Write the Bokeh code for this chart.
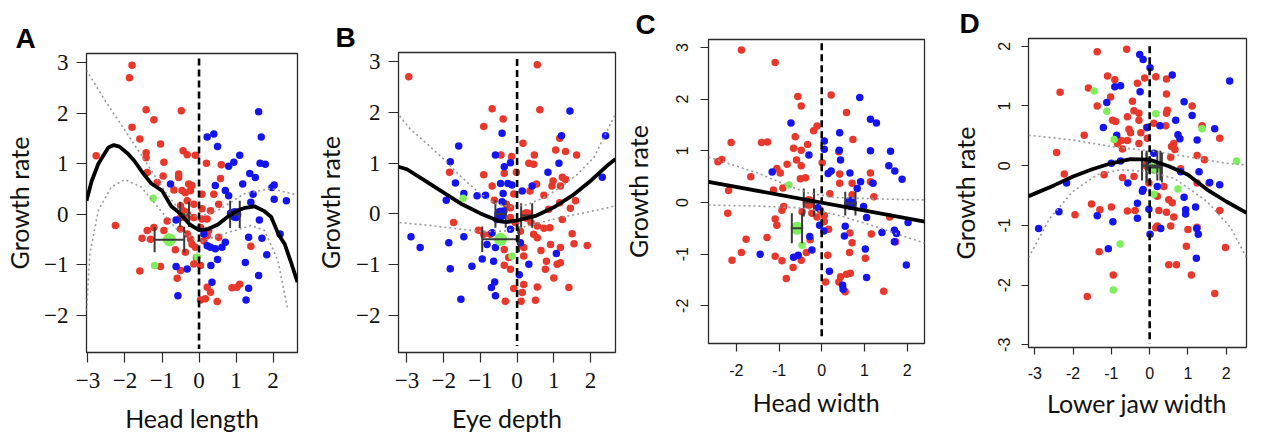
from bokeh.plotting import figure
from bokeh.layouts import row
from bokeh.models import FixedTicker
from bokeh.embed import file_html
from bokeh.resources import INLINE

RED = "#E8372B"
BLUE = "#1414EE"
GREEN = "#7CEF5A"

# ---------------- Panel A : Head length ----------------
A_RED_X = [-1.81,-1.88,-1.43,-0.48,-1.22,-1.81,-1.60,-1.04,-0.43,-0.32,-0.10,-1.43,-1.43,-2.78,-0.95,0.20,0.60,-1.40,-0.97,-0.55,-0.55,0.58,-1.13,-0.28,-0.19,-0.46,-0.37,-0.23,-0.68,0.08,0.40,-0.32,-0.50,-0.14,0.53,0.08,0.31,-0.14,0.22,-0.50,-0.86,-2.26,-1.22,-1.40,-0.95,-0.50,-0.32,-1.54,-1.31,-0.19,-0.10,0.13,0.22,0.53,-0.64,-0.37,1.40,-1.04,-1.60,-0.50,-0.59,-0.14,0.04,-0.07,0.22,0.31,0.04,0.49,0.17,0.89,1.10,1.02,-0.43,-0.37,-0.28,0.08,0.04,0.26,-0.23]
A_RED_Y = [2.95,2.70,2.07,2.05,1.87,1.72,1.49,1.39,1.26,1.18,1.17,1.22,1.12,1.16,1.03,1.01,0.98,0.83,0.76,0.80,0.73,0.71,0.63,0.60,0.57,0.47,0.43,0.47,0.48,0.40,0.40,0.27,0.17,0.20,0.20,0.11,0.07,-0.06,-0.09,-0.06,-0.13,-0.22,-0.26,-0.32,-0.32,-0.29,-0.39,-0.47,-0.49,-0.59,-0.65,-0.52,-0.42,-0.45,-0.70,-0.75,-0.63,-1.03,-1.12,-1.11,-1.26,-0.98,-1.01,-0.85,-1.44,-1.54,-1.69,-1.72,-1.67,-1.45,-1.38,-1.44,0.07,0.01,-0.05,-0.09,-0.26,-0.32,-0.49]
A_BLUE_X = [0.22,0.40,0.50,1.61,1.68,1.10,0.94,0.80,1.65,1.79,1.37,1.52,1.18,2.03,1.97,0.44,0.71,0.80,-0.77,1.46,1.40,2.03,2.36,-0.62,1.63,2.19,1.34,1.70,0.71,0.62,0.44,0.22,0.31,1.83,0.50,1.25,0.32,-0.62,-0.32,1.61,0.35,1.34,-0.57,1.27,0.13,0.85,1.00]
A_BLUE_Y = [1.53,1.59,1.34,2.03,1.53,1.17,1.03,0.95,1.01,0.99,0.81,0.73,0.60,0.58,0.53,0.57,0.47,0.37,0.60,0.40,0.24,0.30,0.27,-0.11,-0.11,-0.39,-0.45,-0.47,-0.55,-0.65,-0.68,-0.62,-0.65,-0.80,-0.89,-0.95,-1.01,-1.03,-1.08,-1.21,-1.34,-1.46,-1.61,-1.69,-0.39,0.02,-0.06]
A_GREEN_X = [-1.24,-1.20,-0.05]
A_GREEN_Y = [0.32,-1.01,-0.84]
A_MEAN_X = [-0.39, 0.97, -0.80]      # red, blue, green
A_MEAN_Y = [0.00, 0.00, -0.50]
A_SE_X = [0.12, 0.13, 0.40]
A_CAP = [0.25, 0.27, 0.25]
A_FIT_X = [-3.04,-2.90,-2.72,-2.45,-2.30,-2.15,-1.92,-1.75,-1.50,-1.29,-1.00,-0.75,-0.50,-0.25,0.00,0.25,0.51,0.75,1.05,1.25,1.50,1.75,1.95,2.15,2.31,2.50,2.66]
A_FIT_Y = [0.27,0.66,1.00,1.32,1.37,1.34,1.20,1.06,0.80,0.61,0.47,0.16,0.01,-0.20,-0.31,-0.29,-0.20,-0.06,0.08,0.13,0.16,0.07,-0.05,-0.40,-0.58,-0.98,-1.34]
A_UP_X = [-3.04,-2.54,-2.00,-1.47,-0.93,-0.48,0.00,0.51,1.23,1.95,2.66]
A_UP_Y = [2.85,2.25,1.66,1.07,0.47,0.03,-0.05,0.08,0.41,0.51,0.38]
A_LO_X = [-3.04,-2.95,-2.72,-2.37,-2.00,-1.56,-1.11,-0.57,0.02,0.69,1.41,1.77,2.13,2.40]
A_LO_Y = [-1.90,-0.78,0.08,0.54,0.69,0.54,0.14,-0.32,-0.55,-0.38,-0.22,-0.32,-0.91,-1.90]

# ---------------- Panel B : Eye depth ----------------
B_RED_X = [-2.95,0.55,-0.68,0.62,-0.38,-0.91,1.16,0.16,1.05,1.32,1.62,-0.44,-0.15,0.47,0.32,0.45,-1.84,-0.91,-0.35,-0.02,0.98,1.23,1.32,0.95,1.18,0.53,0.35,-0.68,-0.09,0.73,1.59,1.16,1.45,-0.62,-0.29,-0.18,0.86,-1.73,-1.05,-0.91,-0.73,-0.18,-0.05,0.27,0.38,0.55,0.73,0.89,1.23,1.50,1.55,1.91,1.18,0.91,0.65,0.45,0.55,0.18,0.18,-0.35,-0.23,0.80,1.09,1.18,0.77,1.00,-0.35,-0.18,0.18,-0.09,0.55,1.41,0.14,-0.32,0.11,0.50,0.09]
B_RED_Y = [2.70,2.94,2.07,2.05,1.87,1.72,1.49,1.39,1.26,1.23,1.16,1.16,1.13,1.16,1.00,0.98,0.82,0.77,0.80,0.82,0.65,0.72,0.68,0.55,0.55,0.59,0.45,0.55,0.39,0.37,0.26,0.22,0.11,0.27,0.19,0.12,0.09,-0.17,-0.32,-0.40,-0.40,-0.07,-0.17,-0.07,-0.17,-0.24,-0.28,-0.27,-0.11,-0.39,-0.59,-0.62,-0.66,-0.60,-0.72,-0.40,-0.47,-0.66,-0.83,-0.70,-0.86,-0.93,-0.99,-0.96,-1.09,-1.26,-1.01,-1.09,-1.39,-1.47,-1.44,-1.45,-1.55,-1.72,-1.72,-1.70,-0.34]
B_BLUE_X = [1.44,2.41,-0.41,1.21,-1.59,-1.82,-0.59,-0.35,-0.18,1.14,0.84,-1.68,-0.45,-0.25,-0.14,0.14,0.41,2.32,-1.45,-1.09,-0.86,-0.38,-1.93,-0.41,-0.18,-0.68,-2.89,-2.64,-1.86,-1.45,-0.82,-0.59,0.09,1.07,-0.95,-0.64,-1.23,-1.82,0.32,0.06,-0.61,-0.70,-0.59,-1.53,-0.36,-0.55]
B_BLUE_Y = [2.03,1.54,1.59,1.54,1.34,1.03,1.16,0.93,1.01,1.00,0.82,0.61,0.60,0.60,0.57,0.45,0.55,0.72,0.40,0.36,0.37,0.40,0.27,0.24,-0.30,-0.37,-0.45,-0.66,-0.57,-0.45,-0.60,-0.66,-0.57,-0.78,-0.89,-0.93,-1.03,-1.08,-0.99,-1.20,-1.34,-1.45,-1.61,-1.68,0.06,-0.11]
B_GREEN_X = [-1.47,-0.14]
B_GREEN_Y = [0.31,-0.83]
B_MEAN_X = [0.26, -0.45, -0.45]
B_MEAN_Y = [-0.03, 0.00, -0.50]
B_SE_X = [0.15, 0.14, 0.50]
B_CAP = [0.24, 0.27, 0.25]
B_FIT_X = [-3.23,-3.00,-2.50,-2.00,-1.50,-1.00,-0.50,-0.30,0.00,0.50,1.00,1.50,2.00,2.50,2.68]
B_FIT_Y = [0.93,0.88,0.65,0.42,0.19,0.01,-0.14,-0.16,-0.13,-0.04,0.13,0.36,0.65,0.98,1.08]
B_UP_X = [-3.20,-2.91,-2.45,-2.00,-1.55,-1.09,-0.64,-0.18,0.27,0.73,1.18,1.64,2.09,2.68]
B_UP_Y = [1.93,1.67,1.38,1.08,0.75,0.45,0.22,0.14,0.18,0.32,0.52,0.78,1.11,1.97]
B_LO_X = [-3.20,-2.45,-1.55,-0.91,-0.36,0.27,1.18,2.09,2.68]
B_LO_Y = [-0.17,-0.22,-0.30,-0.35,-0.34,-0.24,-0.07,0.06,0.16]

# ---------------- Panel C : Head width ----------------
C_RED_X = [-1.88,-1.09,-0.56,0.22,-0.48,0.58,-0.11,-0.19,-0.62,0.73,-2.12,-1.41,-1.27,-0.33,-0.66,-0.48,0.40,-2.34,-2.43,-0.81,-0.59,-0.48,0.01,-1.05,-0.97,1.14,0.42,-1.66,-0.50,-0.38,0.42,0.71,1.14,-2.18,-1.13,-0.91,0.19,1.22,0.71,-0.93,-0.89,-2.20,-0.46,-0.23,-0.11,0.06,-1.09,-1.05,0.16,0.66,1.16,1.59,-1.77,-1.28,-0.27,0.71,1.73,-1.88,-2.10,-1.09,-0.93,-0.36,0.14,0.65,1.02,-0.67,-0.48,-0.83,0.09,0.44,0.58,0.67,0.40,0.55,1.45,-0.03,0.06]
C_RED_Y = [2.95,2.71,2.05,2.08,1.87,1.74,1.48,1.39,1.27,1.22,1.16,1.16,1.17,1.12,1.05,1.01,0.98,0.83,0.79,0.74,0.82,0.71,0.77,0.66,0.57,0.57,0.55,0.50,0.46,0.48,0.37,0.37,0.40,0.23,0.24,0.28,0.17,0.11,0.15,-0.15,-0.08,-0.21,-0.18,-0.21,-0.28,-0.37,-0.32,-0.44,-0.52,-0.59,-0.61,-0.28,-0.71,-0.68,-0.72,-0.78,-0.76,-0.97,-1.12,-1.04,-1.13,-0.97,-1.02,-0.97,-1.08,-1.26,-1.12,-1.47,-1.54,-1.44,-1.39,-1.37,-1.54,-1.73,-1.72,-0.15,-0.25]
C_BLUE_X = [0.89,1.14,1.28,-0.72,0.42,0.06,0.06,0.41,1.14,1.61,-0.30,0.44,1.57,1.71,1.88,-1.16,0.15,0.22,0.66,0.91,0.83,1.20,-0.09,0.98,1.05,2.02,1.41,1.70,1.75,1.70,0.55,0.53,-0.28,-0.05,0.05,-0.23,1.02,-1.44,-0.66,-0.55,1.98,0.18,1.05,0.49,0.50]
C_BLUE_Y = [2.03,1.61,1.54,1.54,1.35,1.19,1.03,1.01,1.00,0.99,0.92,0.82,0.71,0.61,0.45,0.59,0.56,0.61,0.57,0.40,0.27,0.37,-0.10,-0.08,-0.29,-0.39,-0.58,-0.54,-0.60,-0.76,-0.46,-0.65,-0.66,-0.44,-0.55,-0.92,-0.90,-1.00,-1.06,-1.02,-1.21,-1.33,-1.45,-1.60,-1.68]
C_GREEN_X = [-0.77,-0.46]
C_GREEN_Y = [0.34,-0.83]
C_MEAN_X = [-0.30, 0.67, -0.58]
C_MEAN_Y = [0.00, -0.02, -0.50]
C_SE_X = [0.12, 0.12, 0.12]
C_CAP = [0.27, 0.23, 0.29]
C_FIT_X = [-2.65, 2.41]
C_FIT_Y = [0.40, -0.37]
C_UP_X = [-2.65,-1.50,-0.80,-0.30,0.30,1.20,2.41]
C_UP_Y = [0.88,0.57,0.33,0.18,0.10,0.07,0.05]
C_LO_X = [-2.65,-1.50,-0.60,-0.20,0.40,1.20,2.41]
C_LO_Y = [-0.05,-0.07,-0.10,-0.14,-0.25,-0.45,-0.79]

# ---------------- Panel D : Lower jaw width ----------------
D_RED_X = [-1.37,-0.60,-1.10,-0.91,-2.34,-1.60,0.16,0.44,-0.13,-0.32,-1.02,0.44,-0.45,-1.37,1.11,-0.41,-0.28,0.46,0.44,-0.58,-0.97,-0.89,-0.28,0.11,-0.08,0.42,-0.54,-0.50,-1.71,-0.23,1.37,-0.74,-0.84,-0.58,-0.06,1.83,-0.28,-0.71,0.63,0.57,0.66,-2.43,1.24,1.43,0.55,-0.13,-2.23,-1.19,-0.71,-0.41,0.81,1.24,1.55,0.37,-1.52,-1.30,-1.00,-0.58,-0.38,0.24,0.44,0.50,0.59,0.63,1.83,-1.95,0.20,0.55,0.16,1.00,1.24,0.96,1.98,-1.32,0.50,0.70,1.09,-0.95,-1.63,1.70,-0.02,0.20]
D_RED_Y = [1.91,1.95,1.50,1.44,1.23,1.30,1.49,1.45,1.47,1.38,1.15,1.20,1.08,1.00,1.00,0.92,0.88,0.93,0.88,0.82,0.76,0.74,0.76,0.71,0.64,0.67,0.61,0.55,0.51,0.55,0.67,0.42,0.37,0.42,0.46,0.46,0.37,0.28,0.37,0.32,0.27,0.22,0.17,0.10,0.14,0.01,-0.14,-0.15,-0.20,-0.18,-0.05,-0.29,-0.29,-0.35,-0.64,-0.74,-0.69,-0.76,-0.75,-0.75,-0.78,-0.57,-0.62,-0.86,-0.75,-0.82,-1.01,-1.01,-1.04,-1.07,-1.03,-1.35,-1.37,-1.44,-1.66,-1.66,-1.83,-1.83,-2.19,-2.14,-0.29,-0.51]
D_BLUE_X = [-0.26,-0.17,0.01,0.59,2.09,-0.91,-0.76,-0.25,-1.12,0.90,1.11,0.68,-1.21,-0.06,0.27,0.74,0.79,1.70,-0.86,1.24,-0.76,-1.00,0.11,1.29,0.81,-2.17,-0.57,-0.19,0.20,1.57,1.83,-2.37,-1.37,-0.96,-0.32,-0.32,-0.02,0.90,0.94,0.94,1.20,-2.90,0.29,1.23,1.27,0.01,-1.08,1.22,-0.17]
D_BLUE_Y = [1.86,1.78,1.64,1.52,1.42,1.32,1.34,1.24,1.06,1.07,0.84,0.76,0.64,0.64,0.67,0.52,0.45,0.62,0.51,0.43,0.08,0.04,0.21,-0.10,-0.10,-0.29,-0.29,-0.43,-0.35,-0.28,-0.32,-0.77,-0.84,-0.94,-0.63,-0.88,-0.73,-0.53,-0.74,-0.81,-0.69,-1.05,-1.05,-1.05,-1.15,-1.15,-1.39,-1.55,-0.40]
D_GREEN_X = [-1.45,-1.12,0.16,1.37,-0.93,2.27,0.74,0.11,-0.77,-0.95]
D_GREEN_Y = [1.25,0.91,0.87,0.62,0.44,0.08,-0.39,-0.48,-1.31,-2.08]
D_MEAN_X = [0.00, 0.10, 0.12]
D_MEAN_Y = [0.00, 0.00, -0.03]
D_SE_X = [0.20, 0.18, 0.20]
D_CAP = [0.25, 0.25, 0.25]
D_FIT_X = [-3.16,-2.50,-2.00,-1.50,-1.00,-0.50,0.00,0.50,1.00,1.50,2.00,2.53]
D_FIT_Y = [-0.51,-0.33,-0.18,-0.06,0.04,0.11,0.10,-0.01,-0.15,-0.40,-0.60,-0.79]
D_UP_X = [-3.16,-2.00,-1.00,0.00,1.00,2.00,2.53]
D_UP_Y = [0.51,0.43,0.32,0.25,0.15,0.04,0.01]
D_LO_X = [-3.16,-2.61,-2.00,-1.37,-0.76,0.00,0.64,1.50,2.12,2.53]
D_LO_Y = [-1.54,-0.88,-0.43,-0.15,-0.07,-0.10,-0.21,-0.60,-1.04,-1.54]

TICKS_AB_X = [-3, -2, -1, 0, 1, 2]
TICKS_AB_Y = [-2, -1, 0, 1, 2, 3]
TICKS_C_X = [-2, -1, 0, 1, 2]
TICKS_C_Y = [-2, -1, 0, 1, 2, 3]
TICKS_D_X = [-3, -2, -1, 0, 1, 2]
TICKS_D_Y = [-3, -2, -1, 0, 1, 2]

TOP = 38      # common top border (frames aligned inside a row)
BOTTOM = 93   # common bottom border


def lab(v, minus):
    return (minus + str(abs(v))) if v < 0 else str(v)


def panel(letter, xlabel, xr, yr, width, left, right, frame_top, frame_h, xt, yt, minus,
          tfont, tsize, rot, rx, ry, bx, by, gx, gy, mx, my, sex, cap, fx, fy, ux, uy, lx, ly,
          vline, title_off, title_lh, ylab_standoff, xlab_standoff, tick_out,
          tick_stand_x, tick_stand_y):
    p = figure(width=width, height=TOP + frame_h + BOTTOM, x_range=xr, y_range=yr,
               output_backend="svg", toolbar_location=None,
               min_border_left=left, min_border_right=right,
               min_border_top=TOP, min_border_bottom=BOTTOM,
               margin=(frame_top - TOP, 0, 0, 0),
               title=letter)
    p.title.text_font = "Liberation Sans"
    p.title.text_font_style = "bold"
    p.title.text_font_size = "28px"
    p.title.text_color = "black"
    p.title.align = "left"
    p.title.offset = title_off
    p.title.standoff = 0
    p.title.text_line_height = title_lh
    p.grid.visible = False
    p.background_fill_color = "white"
    p.border_fill_color = "white"
    p.outline_line_color = "#2a2a2a"
    p.outline_line_width = 1.3
    for ax in (p.xaxis, p.yaxis):
        ax.axis_line_color = None
        ax.major_tick_line_color = "#2a2a2a"
        ax.major_tick_line_width = 1.2
        ax.major_tick_out = tick_out
        ax.major_tick_in = 0
        ax.minor_tick_line_color = None
        ax.major_label_text_font = tfont
        ax.major_label_text_font_size = tsize
        ax.major_label_text_color = "#111111"
        ax.axis_label_text_font = "Lato"
        ax.axis_label_text_font_size = "25px"
        ax.axis_label_text_font_style = "normal"
        ax.axis_label_text_color = "#111111"
    p.xaxis.ticker = FixedTicker(ticks=xt)
    p.yaxis.ticker = FixedTicker(ticks=yt)
    p.xaxis.major_label_overrides = {v: lab(v, minus) for v in xt}
    p.yaxis.major_label_overrides = {v: lab(v, minus) for v in yt}
    p.xaxis.major_label_standoff = tick_stand_x
    p.yaxis.major_label_standoff = tick_stand_y
    if rot:
        p.yaxis.major_label_orientation = "vertical"
    p.xaxis.axis_label = xlabel
    p.yaxis.axis_label = "Growth rate"
    p.xaxis.axis_label_standoff = xlab_standoff
    p.yaxis.axis_label_standoff = ylab_standoff

    nr = min(len(rx), len(ry))
    nb = min(len(bx), len(by))
    p.scatter(rx[:nr], ry[:nr], size=7.5, color=RED, line_width=0)
    p.scatter(bx[:nb], by[:nb], size=7.5, color=BLUE, line_width=0)
    p.scatter(gx, gy, size=7.5, color=GREEN, line_width=0)
    cols = [RED, BLUE, GREEN]
    p.scatter(mx, my, size=13, color=cols, line_width=0)
    x0 = [m - s for m, s in zip(mx, sex)]
    x1 = [m + s for m, s in zip(mx, sex)]
    ylo = [m - c for m, c in zip(my, cap)]
    yhi = [m + c for m, c in zip(my, cap)]
    p.segment(x0, my, x1, my, line_color="#3a3a3a", line_width=2)
    p.segment(x0, ylo, x0, yhi, line_color="#3a3a3a", line_width=2)
    p.segment(x1, ylo, x1, yhi, line_color="#3a3a3a", line_width=2)
    p.line(ux, uy, line_color="#9a9a9a", line_width=1.6, line_dash="2 3")
    p.line(lx, ly, line_color="#9a9a9a", line_width=1.6, line_dash="2 3")
    p.line(fx, fy, line_color="black", line_width=3.8)
    p.line([0, 0], vline, line_color="black", line_width=2.6, line_dash="7 4")
    return p


# figure spans: A 0-300, B 300-618, C 618-927, D 927-1268
pa = panel("A", "Head length", (-3.04, 2.66), (-2.73, 3.18), 300, 86, 3, 53, 299,
           TICKS_AB_X, TICKS_AB_Y, "\u2212", "Liberation Serif", "23px", False,
           A_RED_X, A_RED_Y, A_BLUE_X, A_BLUE_Y, A_GREEN_X, A_GREEN_Y,
           A_MEAN_X, A_MEAN_Y, A_SE_X, A_CAP, A_FIT_X, A_FIT_Y, A_UP_X, A_UP_Y, A_LO_X, A_LO_Y,
           [3.08, -2.66], -71, 1.0, 7, 12, 10, 10, 8)
pb = panel("B", "Eye depth", (-3.23, 2.68), (-2.73, 3.18), 318, 98, 3, 52, 300,
           TICKS_AB_X, TICKS_AB_Y, "\u2212", "Liberation Serif", "23px", False,
           B_RED_X, B_RED_Y, B_BLUE_X, B_BLUE_Y, B_GREEN_X, B_GREEN_Y,
           B_MEAN_X, B_MEAN_Y, B_SE_X, B_CAP, B_FIT_X, B_FIT_Y, B_UP_X, B_UP_Y, B_LO_X, B_LO_Y,
           [3.05, -2.6], -63, 1.0, 8, 12, 10, 10, 8)
pc = panel("C", "Head width", (-2.65, 2.405), (-2.73, 3.155), 309, 90, 3, 39, 304,
           TICKS_C_X, TICKS_C_Y, "-", "Liberation Sans", "16px", True,
           C_RED_X, C_RED_Y, C_BLUE_X, C_BLUE_Y, C_GREEN_X, C_GREEN_Y,
           C_MEAN_X, C_MEAN_Y, C_SE_X, C_CAP, C_FIT_X, C_FIT_Y, C_UP_X, C_UP_Y, C_LO_X, C_LO_Y,
           [3.08, -2.61], -73, 1.15, 21, 8, 8, 12, 12)
pd_ = panel("D", "Lower jaw width", (-3.165, 2.53), (-3.045, 2.13), 341, 101, 22, 38, 309,
            TICKS_D_X, TICKS_D_Y, "-", "Liberation Sans", "16px", True,
            D_RED_X, D_RED_Y, D_BLUE_X, D_BLUE_Y, D_GREEN_X, D_GREEN_Y,
            D_MEAN_X, D_MEAN_Y, D_SE_X, D_CAP, D_FIT_X, D_FIT_Y, D_UP_X, D_UP_Y, D_LO_X, D_LO_Y,
            [2.0, -2.98], -69, 1.3, 16, 6, 7, 12, 11)

layout = row(pa, pb, pc, pd_, spacing=0)
open("out.html", "w").write(file_html(layout, INLINE))
